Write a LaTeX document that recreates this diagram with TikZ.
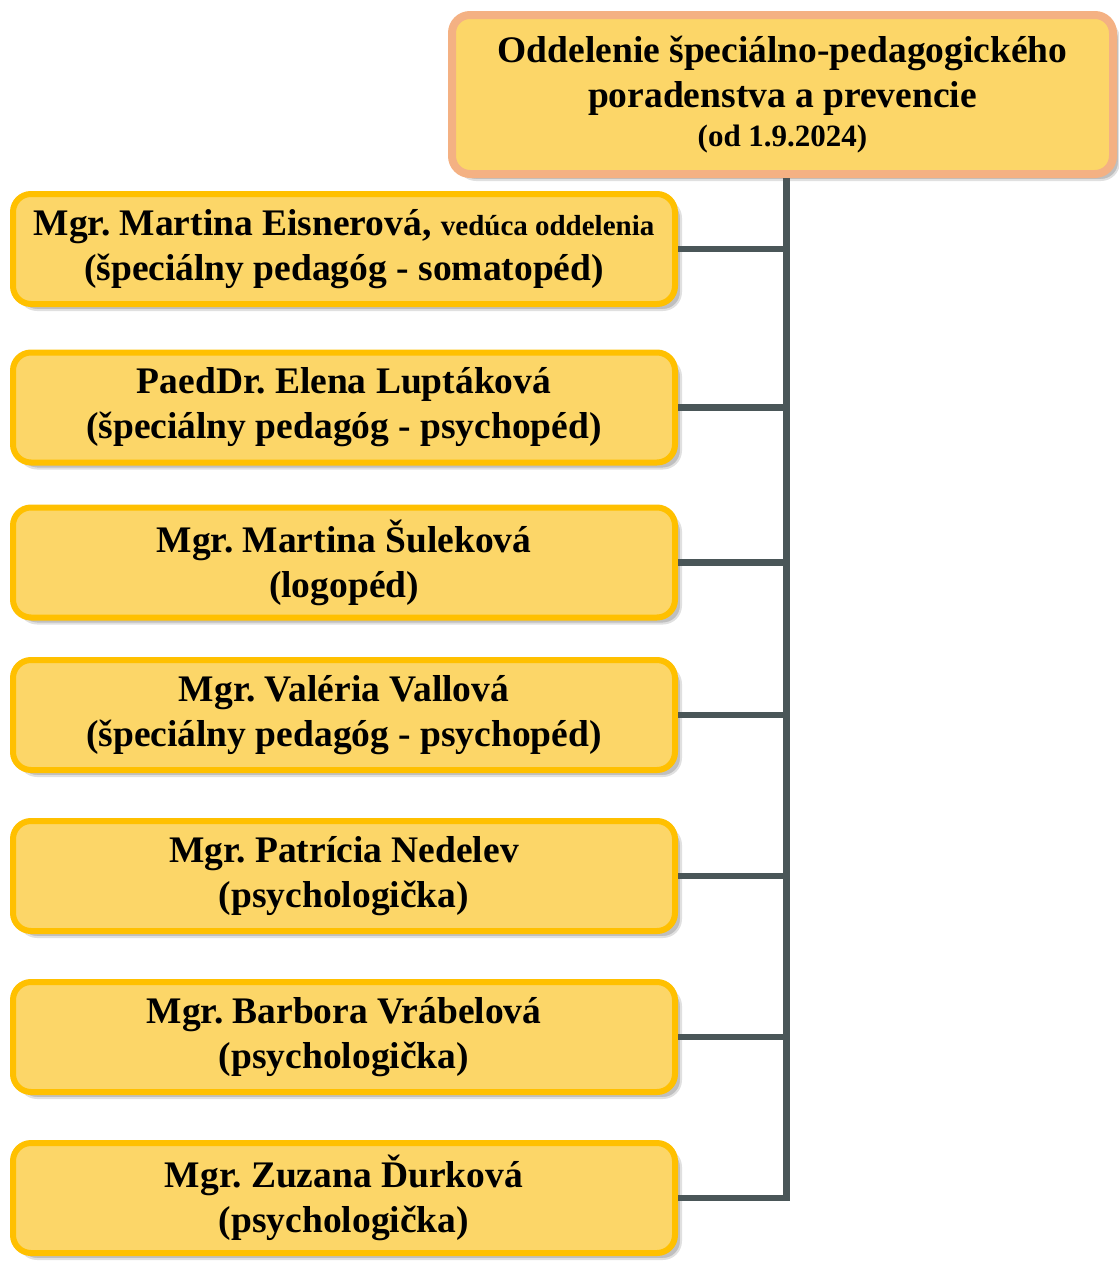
\documentclass[tikz,border=0pt]{standalone}
\usepackage{fontspec}
\setmainfont{Liberation Serif}
\usetikzlibrary{calc,shadows}
\frenchspacing

\definecolor{boxfill}{RGB}{252,214,104}
\definecolor{boxline}{RGB}{255,192,0}
\definecolor{headline}{RGB}{244,177,131}
\definecolor{linkcol}{RGB}{74,86,88}

\begin{document}
\begin{tikzpicture}[x=1pt,y=-1pt,
    person/.style={draw=boxline,fill=boxfill,line width=6pt,rounded corners=18pt,
      minimum width=662pt,minimum height=110pt,align=center,inner sep=0pt,
      font=\fontsize{37.5}{45}\selectfont\bfseries,
      drop shadow={shadow xshift=6pt,shadow yshift=-6pt,opacity=1,fill=black!25,draw=black!12,line width=2pt}},
    head/.style={person,draw=headline,line width=8pt,minimum width=661pt,minimum height=159pt},
    link/.style={draw=linkcol,line width=6.5pt}]
    \useasboundingbox (0,0) rectangle (1119,1261);

    % Department
    \node[head] (dept) at (782.5,94.5) {Oddelenie špeciálno-pedagogického\\poradenstva a prevencie\\[-6pt]{\fontsize{31}{36}\selectfont(od 1.9.2024)}};

    % Staff
    \node[person] (eisnerova) at (344,249) {Mgr. Martina Eisnerová, {\fontsize{29}{36}\selectfont vedúca oddelenia}\\(špeciálny pedagóg - somatopéd)};
    \node[person] (luptakova) at (344,407.5) {PaedDr. Elena Luptáková\\(špeciálny pedagóg - psychopéd)};
    \node[person] (sulekova) at (344,562.5) {Mgr. Martina Šuleková\\(logopéd)};
    \node[person] (vallova) at (344,715) {Mgr. Valéria Vallová\\(špeciálny pedagóg - psychopéd)};
    \node[person] (nedelev) at (344,876) {Mgr. Patrícia Nedelev\\(psychologička)};
    \node[person] (vrabelova) at (344,1037) {Mgr. Barbora Vrábelová\\(psychologička)};
    \node[person] (durkova) at (344,1198) {Mgr. Zuzana Ďurková\\(psychologička)};

    % Connectors
    \coordinate (trunk) at (786.5,0);
    \draw[link] (dept.south -| trunk) |- (durkova.east);
    \draw[link] (eisnerova.east) -- (eisnerova.east -| trunk);
    \draw[link] (luptakova.east) -- (luptakova.east -| trunk);
    \draw[link] (sulekova.east) -- (sulekova.east -| trunk);
    \draw[link] (vallova.east) -- (vallova.east -| trunk);
    \draw[link] (nedelev.east) -- (nedelev.east -| trunk);
    \draw[link] (vrabelova.east) -- (vrabelova.east -| trunk);
  \end{tikzpicture}
\end{document}
